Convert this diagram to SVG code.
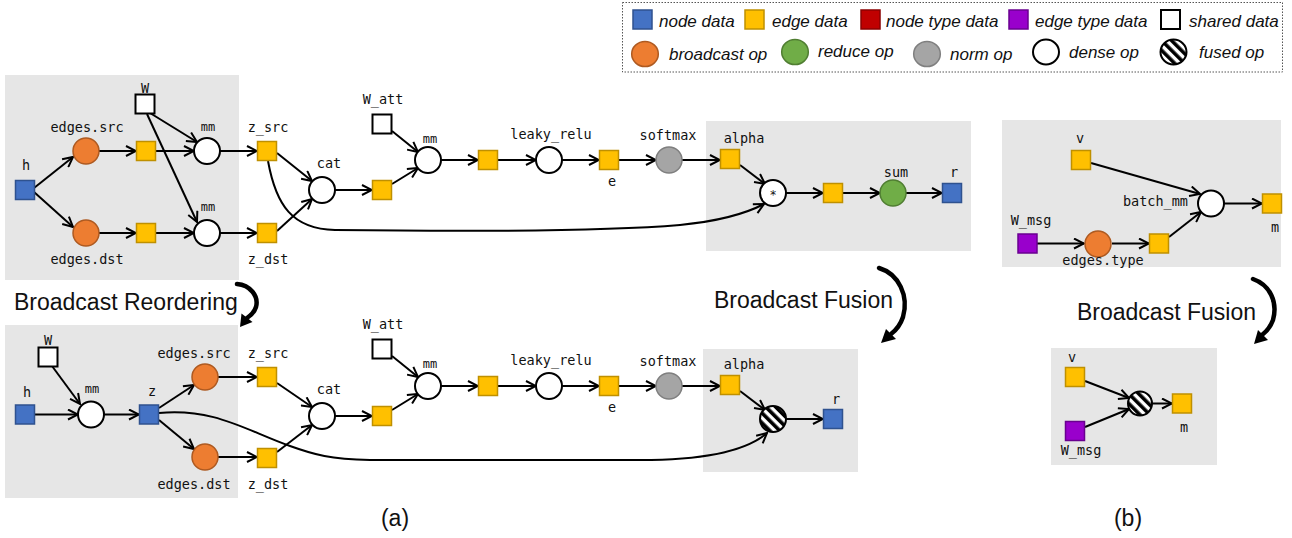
<svg xmlns="http://www.w3.org/2000/svg" width="1292" height="538" viewBox="0 0 1292 538">
<style>
.bg{fill:#e6e6e6}
.nd{fill:#4472c4;stroke:#2f528f;stroke-width:1.5}
.ed{fill:#ffc000;stroke:#bf9000;stroke-width:1.5}
.nt{fill:#c00000;stroke:#8b0000;stroke-width:1.5}
.et{fill:#9900cc;stroke:#6a0090;stroke-width:1.5}
.sh{fill:#fff;stroke:#000;stroke-width:2}
.bc{fill:#ed7d31;stroke:#ae5a21;stroke-width:1.5}
.rd{fill:#70ad47;stroke:#507e32;stroke-width:1.5}
.nm{fill:#a5a5a5;stroke:#7f7f7f;stroke-width:1.5}
.dn{fill:#fff;stroke:#000;stroke-width:2}
.fu{fill:url(#hatch);stroke:#000;stroke-width:2}
.lbl{font-family:"DejaVu Sans Mono","Liberation Mono",monospace;font-size:13.5px;fill:#111;text-anchor:middle}
.sm{font-size:12px}
.leg{font-family:"Liberation Sans",Arial,sans-serif;font-style:italic;font-size:17px;fill:#111}
.cap{font-family:"Liberation Sans",Arial,sans-serif;font-size:23px;fill:#111}
.edge{fill:none;stroke:#000;stroke-width:2;marker-end:url(#arr)}
.carr{fill:none;stroke:#000;stroke-width:4.5;stroke-linecap:round}
</style>
<defs>
<marker id="arr" markerUnits="userSpaceOnUse" viewBox="0 0 12 12" markerWidth="12" markerHeight="12" refX="11" refY="6" orient="auto">
<path d="M1,1 L11,6 L1,11" fill="none" stroke="#000" stroke-width="2" stroke-linejoin="miter"/>
</marker>
<pattern id="hatch" patternUnits="userSpaceOnUse" width="7" height="7" patternTransform="rotate(-45)">
<rect width="7" height="7" fill="#fff"/>
<rect width="3.6" height="7" fill="#000"/>
</pattern>
</defs>

<g id="backgrounds">
<rect class="bg" x="5" y="75" width="234" height="205"/>
<rect class="bg" x="706" y="121" width="265" height="130"/>
<rect class="bg" x="5" y="325" width="233" height="173"/>
<rect class="bg" x="703" y="349" width="155" height="123"/>
<rect class="bg" x="1002" y="120" width="279" height="147"/>
<rect class="bg" x="1051" y="348" width="166" height="117"/>
</g>

<g id="legend">
<rect x="622.5" y="2.5" width="660" height="69.5" fill="#fff" stroke="#555" stroke-width="1" stroke-dasharray="1.5,1.5"/>
<rect class="nd" x="633" y="10" width="19" height="19"/>
<text class="leg" x="659" y="27">node data</text>
<rect class="ed" x="745" y="10" width="19" height="19"/>
<text class="leg" x="772" y="27">edge data</text>
<rect class="nt" x="861" y="10" width="19" height="19"/>
<text class="leg" x="886" y="27">node type data</text>
<rect class="et" x="1009" y="10" width="19" height="19"/>
<text class="leg" x="1035" y="27">edge type data</text>
<rect class="sh" x="1161" y="10" width="19" height="19"/>
<text class="leg" x="1189" y="27">shared data</text>
<ellipse class="bc" cx="645" cy="54" rx="13.3" ry="12.5"/>
<text class="leg" x="669" y="60">broadcast op</text>
<ellipse class="rd" cx="795" cy="52" rx="13.3" ry="12.5"/>
<text class="leg" x="818" y="57">reduce op</text>
<ellipse class="nm" cx="927" cy="54" rx="13.3" ry="12.5"/>
<text class="leg" x="950" y="60">norm op</text>
<ellipse class="dn" cx="1046" cy="52" rx="13" ry="12.5"/>
<text class="leg" x="1069" y="58">dense op</text>
<ellipse class="fu" cx="1173.5" cy="52" rx="13" ry="12.5"/>
<text class="leg" x="1199" y="58">fused op</text>
</g>

<g id="connectors">
<!-- top (a) -->
<path class="edge" d="M34,188 L73,157"/>
<path class="edge" d="M34,192 L73,227"/>
<path class="edge" d="M99,151 L136,151"/>
<path class="edge" d="M99,233 L136,233"/>
<path class="edge" d="M156,151 L194,151"/>
<path class="edge" d="M156,233 L194,233"/>
<path class="edge" d="M150,113 L197,142"/>
<path class="edge" d="M147,114 L197,222"/>
<path class="edge" d="M220,151 L257,151"/>
<path class="edge" d="M220,233 L257,233"/>
<path class="edge" d="M277,153 L312,181"/>
<path class="edge" d="M277,231 L312,199"/>
<path class="edge" d="M335,190 L372,190"/>
<path class="edge" d="M392,184 L418,168"/>
<path class="edge" d="M392,131 L418,152"/>
<path class="edge" d="M441,160 L478,160"/>
<path class="edge" d="M498,160 L536,160"/>
<path class="edge" d="M562,160 L599,160"/>
<path class="edge" d="M619,160 L656,160"/>
<path class="edge" d="M682,160 L720,160"/>
<path class="edge" d="M740,165 L765,184"/>
<path class="edge" d="M268,161 C276,205 292,229 335,230 C500,232 620,230 680,225 C720,221 745,214 764,204"/>
<path class="edge" d="M786,193 L823,193"/>
<path class="edge" d="M843,193 L880,193"/>
<path class="edge" d="M906,193 L942,193"/>
<!-- bottom (a) -->
<path class="edge" d="M35,414.5 L78,414.5"/>
<path class="edge" d="M52,366 L80,404"/>
<path class="edge" d="M104,414.5 L139,414.5"/>
<path class="edge" d="M159,408 L194,385"/>
<path class="edge" d="M159,420 L194,449"/>
<path class="edge" d="M218,377 L257,377"/>
<path class="edge" d="M218,457 L257,457"/>
<path class="edge" d="M277,383 L312,407"/>
<path class="edge" d="M277,452 L312,425"/>
<path class="edge" d="M335,416 L372,416"/>
<path class="edge" d="M392,410 L418,394"/>
<path class="edge" d="M392,356 L418,377"/>
<path class="edge" d="M441,386 L478,386"/>
<path class="edge" d="M498,386 L536,386"/>
<path class="edge" d="M562,386 L599,386"/>
<path class="edge" d="M619,386 L656,386"/>
<path class="edge" d="M682,386 L720,386"/>
<path class="edge" d="M740,391 L765,410"/>
<path class="edge" d="M786,419 L823,419"/>
<path class="edge" d="M159,413 C215,408 245,430 290,446 C315,455 330,459 370,460 L640,460 C700,460 745,452 767,433"/>
<!-- (b) top -->
<path class="edge" d="M1091,163 L1200,194"/>
<path class="edge" d="M1037,243.5 L1084,243.5"/>
<path class="edge" d="M1112,243.5 L1149,243.5"/>
<path class="edge" d="M1169,237 L1201,212"/>
<path class="edge" d="M1224,203.5 L1262,203.5"/>
<!-- (b) bottom -->
<path class="edge" d="M1085,381 L1129,398"/>
<path class="edge" d="M1085,427 L1129,409"/>
<path class="edge" d="M1152,403.5 L1172,403.5"/>
</g>

<g id="transform-arrows">
<path class="carr" d="M237,284 C250,285 259,296 256,307 C254,313 250,316 247,318"/>
<polygon points="240,327 241.5,313.5 252.5,322" fill="#000"/>
<path class="carr" d="M879,268 C899,274 909,296 903,317 C900,326 895,331 891,334"/>
<polygon points="881,343 886,329 896,339" fill="#000"/>
<path class="carr" d="M1253,279 C1270,285 1278,302 1273,320 C1270,328 1266,332 1262,335"/>
<polygon points="1254,344 1258,330 1268,340" fill="#000"/>
<text class="cap" x="14" y="310">Broadcast Reordering</text>
<text class="cap" x="714" y="308">Broadcast Fusion</text>
<text class="cap" x="1077" y="320">Broadcast Fusion</text>
<text class="cap" x="395" y="526" text-anchor="middle">(a)</text>
<text class="cap" x="1128" y="526" text-anchor="middle">(b)</text>
</g>

<!-- top (a) nodes -->
<g id="h"><rect class="nd" x="15.5" y="180.5" width="19" height="19"/><text class="lbl" x="26" y="170">h</text></g>
<g id="W"><rect class="sh" x="135.5" y="94.5" width="19" height="19"/><text class="lbl" x="145" y="93">W</text></g>
<g id="edges_src"><circle class="bc" cx="86" cy="151" r="13"/><text class="lbl" x="87" y="132">edges.src</text></g>
<g id="edges_dst"><circle class="bc" cx="86" cy="233" r="13"/><text class="lbl" x="87" y="264">edges.dst</text></g>
<g id="src_e"><rect class="ed" x="136.5" y="141.5" width="19" height="19"/></g>
<g id="dst_e"><rect class="ed" x="136.5" y="223.5" width="19" height="19"/></g>
<g id="mm_src"><circle class="dn" cx="207" cy="151" r="13"/><text class="lbl sm" x="208" y="131">mm</text></g>
<g id="mm_dst"><circle class="dn" cx="207" cy="233" r="13"/><text class="lbl sm" x="208" y="211">mm</text></g>
<g id="z_src"><rect class="ed" x="257.5" y="141.5" width="19" height="19"/><text class="lbl" x="268" y="132">z_src</text></g>
<g id="z_dst"><rect class="ed" x="257.5" y="223.5" width="19" height="19"/><text class="lbl" x="268" y="264">z_dst</text></g>
<g id="cat"><circle class="dn" cx="322" cy="190" r="13"/><text class="lbl" x="329" y="168">cat</text></g>
<g id="cat_out"><rect class="ed" x="372.5" y="180.5" width="19" height="19"/></g>
<g id="W_att"><rect class="sh" x="372.5" y="114.5" width="19" height="19"/><text class="lbl" x="383" y="104">W_att</text></g>
<g id="mm_att"><circle class="dn" cx="428" cy="160" r="13"/><text class="lbl sm" x="430" y="143">mm</text></g>
<g id="mm_att_out"><rect class="ed" x="478.5" y="150.5" width="19" height="19"/></g>
<g id="leaky_relu"><circle class="dn" cx="549" cy="160" r="13"/><text class="lbl" x="551" y="139">leaky_relu</text></g>
<g id="e"><rect class="ed" x="599.5" y="150.5" width="19" height="19"/><text class="lbl" x="612" y="186">e</text></g>
<g id="softmax"><circle class="nm" cx="669" cy="160" r="13"/><text class="lbl" x="668" y="140">softmax</text></g>
<g id="alpha"><rect class="ed" x="720.5" y="149.5" width="19" height="19"/><text class="lbl" x="744" y="143">alpha</text></g>
<g id="mul"><circle class="dn" cx="773" cy="193" r="13"/><text class="lbl" x="773" y="199" style="font-size:12px">*</text></g>
<g id="mul_out"><rect class="ed" x="823.5" y="183.5" width="19" height="19"/></g>
<g id="sum"><circle class="rd" cx="893" cy="193" r="13"/><text class="lbl" x="896" y="177">sum</text></g>
<g id="r"><rect class="nd" x="942.5" y="183.5" width="19" height="19"/><text class="lbl" x="954" y="177">r</text></g>

<!-- bottom (a) nodes -->
<g id="W2"><rect class="sh" x="38.5" y="347.5" width="19" height="19"/><text class="lbl" x="48" y="345">W</text></g>
<g id="h2"><rect class="nd" x="15.5" y="405" width="19" height="19"/><text class="lbl" x="27" y="397">h</text></g>
<g id="mm2"><circle class="dn" cx="91" cy="414.5" r="13"/><text class="lbl sm" x="92" y="393">mm</text></g>
<g id="z"><rect class="nd" x="139.5" y="405" width="19" height="19"/><text class="lbl" x="152" y="396">z</text></g>
<g id="edges_src2"><circle class="bc" cx="205" cy="377" r="13"/><text class="lbl" x="194" y="358">edges.src</text></g>
<g id="edges_dst2"><circle class="bc" cx="205" cy="457" r="13"/><text class="lbl" x="194" y="489">edges.dst</text></g>
<g id="z_src2"><rect class="ed" x="257.5" y="367.5" width="19" height="19"/><text class="lbl" x="268" y="358">z_src</text></g>
<g id="z_dst2"><rect class="ed" x="257.5" y="448.5" width="19" height="19"/><text class="lbl" x="268" y="489">z_dst</text></g>
<g id="cat2"><circle class="dn" cx="322" cy="416" r="13"/><text class="lbl" x="329" y="394">cat</text></g>
<g id="cat_out2"><rect class="ed" x="372.5" y="406.5" width="19" height="19"/></g>
<g id="W_att2"><rect class="sh" x="372.5" y="339.5" width="19" height="19"/><text class="lbl" x="383" y="329">W_att</text></g>
<g id="mm_att2"><circle class="dn" cx="428" cy="386" r="13"/><text class="lbl sm" x="430" y="368">mm</text></g>
<g id="mm_att_out2"><rect class="ed" x="478.5" y="376.5" width="19" height="19"/></g>
<g id="leaky_relu2"><circle class="dn" cx="549" cy="386" r="13"/><text class="lbl" x="551" y="365">leaky_relu</text></g>
<g id="e2"><rect class="ed" x="599.5" y="376.5" width="19" height="19"/><text class="lbl" x="612" y="412">e</text></g>
<g id="softmax2"><circle class="nm" cx="669" cy="386" r="13"/><text class="lbl" x="668" y="366">softmax</text></g>
<g id="alpha2"><rect class="ed" x="720.5" y="375.5" width="19" height="19"/><text class="lbl" x="744" y="369">alpha</text></g>
<g id="fused_a"><circle class="fu" cx="773" cy="419" r="13"/></g>
<g id="r2"><rect class="nd" x="823.5" y="409.5" width="19" height="19"/><text class="lbl" x="836" y="404">r</text></g>

<!-- (b) top nodes -->
<g id="v"><rect class="ed" x="1071.5" y="150.5" width="19" height="19"/><text class="lbl" x="1080" y="143">v</text></g>
<g id="batch_mm"><circle class="dn" cx="1211" cy="203.5" r="13"/><text class="lbl" x="1188" y="206" style="text-anchor:end">batch_mm</text></g>
<g id="m"><rect class="ed" x="1262.5" y="194" width="19" height="19"/><text class="lbl" x="1275" y="232">m</text></g>
<g id="W_msg"><rect class="et" x="1018" y="234" width="19" height="19"/><text class="lbl" x="1031" y="225">W_msg</text></g>
<g id="edges_type"><circle class="bc" cx="1098" cy="244" r="13"/><text class="lbl" x="1103" y="265">edges.type</text></g>
<g id="type_e"><rect class="ed" x="1149.5" y="234" width="19" height="19"/></g>

<!-- (b) bottom nodes -->
<g id="v2"><rect class="ed" x="1065.5" y="367.5" width="19" height="19"/><text class="lbl" x="1072" y="362">v</text></g>
<g id="fused_b"><circle class="fu" cx="1140" cy="403.5" r="12"/></g>
<g id="m2"><rect class="ed" x="1172.5" y="394" width="19" height="19"/><text class="lbl" x="1184" y="432">m</text></g>
<g id="W_msg2"><rect class="et" x="1065.5" y="421.5" width="19" height="19"/><text class="lbl" x="1081" y="455">W_msg</text></g>
</svg>
